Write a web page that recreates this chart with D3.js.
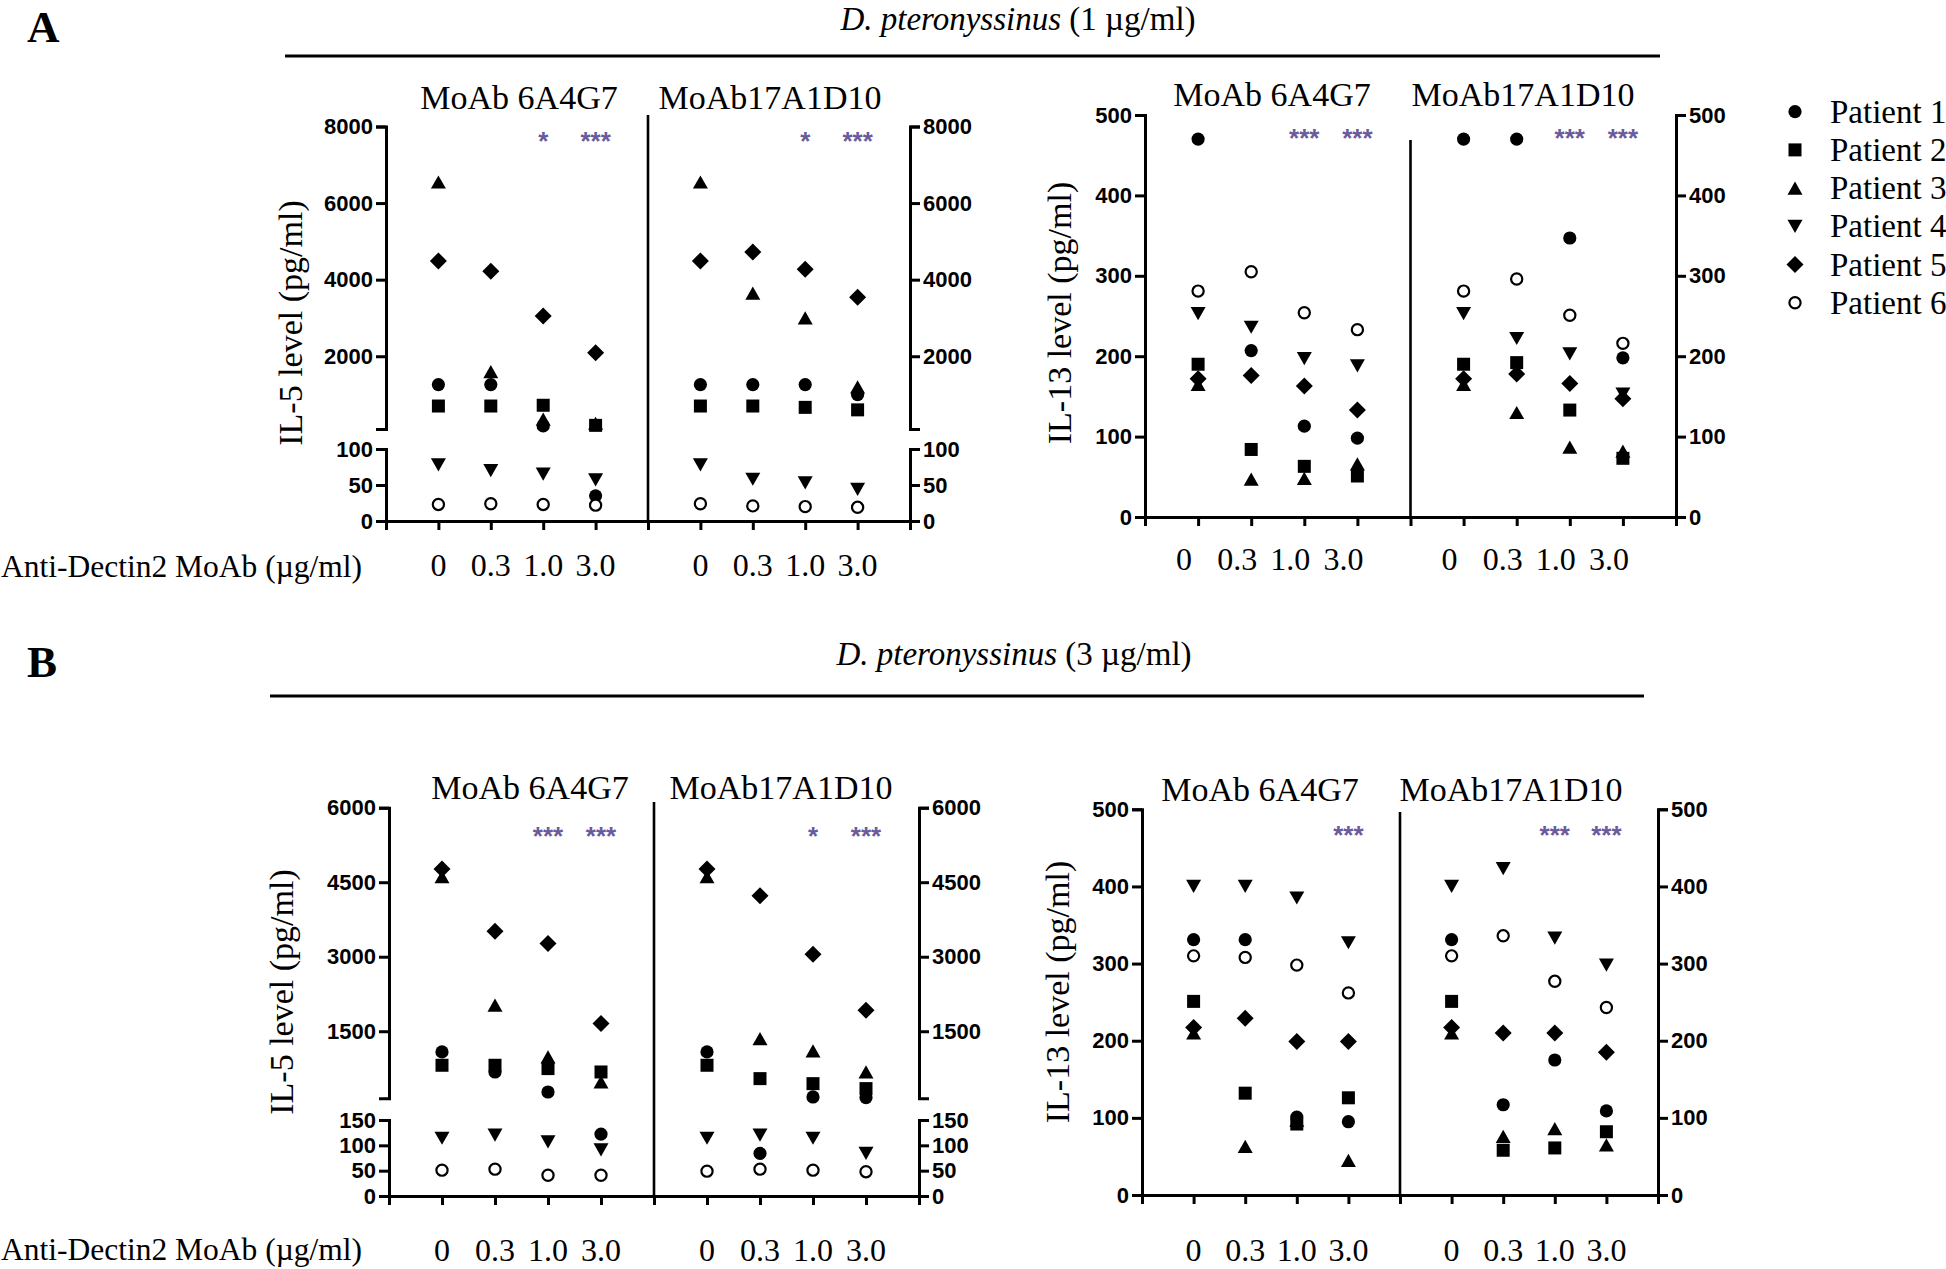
<!DOCTYPE html>
<html><head><meta charset="utf-8">
<script src="https://cdn.jsdelivr.net/npm/d3@7"></script>
<style>body{margin:0;background:#fff} svg{display:block}</style>
</head><body>
<svg id="c" width="1946" height="1269"></svg>
<script>
// ---------------- DATA ----------------
const patients = ["Patient 1","Patient 2","Patient 3","Patient 4","Patient 5","Patient 6"];
const doses = ["0","0.3","1.0","3.0"];
const antibodies = ["MoAb 6A4G7","MoAb17A1D10"];
const doseAxisTitle = "Anti-Dectin2 MoAb (\u00b5g/ml)";
const il5Title = "IL-5 level (pg/ml)";
const il13Title = "IL-13 level (pg/ml)";

// values per patient: [6A4G7: 0,0.3,1.0,3.0, 17A1D10: 0,0.3,1.0,3.0]
const a_il5 = [
  [1260,1260,180,35, 1260,1260,1260,1000],
  [700,700,720,195, 700,700,665,600],
  [6550,1600,360,250, 6550,3650,3000,1200],
  [78,70,65,57, 78,58,53,44],
  [4490,4220,3050,2090, 4490,4720,4270,3540],
  [23,24,23,22, 24,21,20,19]
];
const a_il13 = [
  [470,207,113,98, 470,470,347,198],
  [190,84,63,51, 190,192,133,73],
  [165,47,48,66, 165,130,87,82],
  [253,236,197,188, 253,222,203,153],
  [172,176,163,133, 172,178,166,147],
  [281,305,254,233, 281,296,251,216]
];
const b_il5 = [
  [1084,680,277,122, 1084,84,177,165],
  [815,815,748,680, 815,546,445,345],
  [4610,2024,983,479, 4610,1352,1104,680],
  [114,120,107,91, 114,120,114,84],
  [4765,3515,3267,1655, 4765,4227,3052,1923],
  [51,53,41,41, 49,53,51,48]
];
const b_il13 = [
  [331,331,101,95, 331,117,175,109],
  [251,132,92,126, 251,58,61,82],
  [210,63,97,45, 210,76,86,65],
  [400,400,385,327, 400,423,333,298],
  [217,229,199,199, 217,210,210,185],
  [310,308,298,262, 310,336,277,243]
];
const a_il5_sig = ["","","*","***","","","*","***"];
const a_il13_sig = ["","","***","***","","","***","***"];
const b_il5_sig = ["","","***","***","","","*","***"];
const b_il13_sig = ["","","","***","","","***","***"];

const a_il5_upperTicks = [2000,4000,6000,8000], a_il5_lowerTicks = [0,50,100];
const b_il5_upperTicks = [1500,3000,4500,6000], b_il5_lowerTicks = [0,50,100,150];
const il13Ticks = [0,100,200,300,400,500];

// ---------------- DRAWING ----------------
const svg = d3.select("#c");
const SERIF = "'Liberation Serif','Times New Roman',serif";
const TICKFONT = "'Liberation Sans',Arial,sans-serif";
const SANS = "'Liberation Sans',Arial,sans-serif";
const SIGCOL = "#6a5b9c";

const triUp = {draw(ctx,size){const w=Math.sqrt(size),h=w*0.88;ctx.moveTo(0,-h/2);ctx.lineTo(w/2,h/2);ctx.lineTo(-w/2,h/2);ctx.closePath();}};
const triDown = {draw(ctx,size){const w=Math.sqrt(size),h=w*0.88;ctx.moveTo(0,h/2);ctx.lineTo(w/2,-h/2);ctx.lineTo(-w/2,-h/2);ctx.closePath();}};
const diamond = {draw(ctx,size){const r=Math.sqrt(size)/2;ctx.moveTo(0,-r);ctx.lineTo(r,0);ctx.lineTo(0,r);ctx.lineTo(-r,0);ctx.closePath();}};
const symbols = [
  {type:d3.symbolCircle,size:Math.PI*6.6*6.6,fill:"#000",stroke:"none"},
  {type:d3.symbolSquare,size:13*13,fill:"#000",stroke:"none"},
  {type:triUp,size:15*15,fill:"#000",stroke:"none"},
  {type:triDown,size:15*15,fill:"#000",stroke:"none"},
  {type:diamond,size:17*17,fill:"#000",stroke:"none"},
  {type:d3.symbolCircle,size:Math.PI*5.6*5.6,fill:"#fff",stroke:"#000"}
];
const drawOrder = [2,3,1,0,4,5];

function styleAxis(g){
  g.selectAll("path,line").attr("stroke","#000").attr("stroke-width",3);
  g.selectAll("text").attr("font-family",TICKFONT).attr("font-weight","bold").attr("font-size",22).attr("fill","#000");
}

function panel(cfg){
  const g = svg.append("g");
  const x = d3.scaleLinear().domain([0,10]).range(cfg.xRange);
  let yFn, y0;
  if(cfg.broken){
    const yU = d3.scaleLinear().domain(cfg.upperDomain).range(cfg.upperRange);
    const yL = d3.scaleLinear().domain(cfg.lowerDomain).range(cfg.lowerRange);
    yFn = v => v < cfg.lowerDomain[1] ? yL(v) : yU(v);
    y0 = yL(0);
    [[d3.axisLeft, cfg.xRange[0]], [d3.axisRight, cfg.xRange[1]]].forEach(([ax, xp]) => {
      const gu = g.append("g").attr("transform",`translate(${xp},0)`)
        .call(ax(yU).tickValues(cfg.upperTicks).tickSize(10).tickSizeOuter(10).tickPadding(3).tickFormat(d3.format("d")));
      styleAxis(gu);
      const gl = g.append("g").attr("transform",`translate(${xp},0)`)
        .call(ax(yL).tickValues(cfg.lowerTicks).tickSize(10).tickSizeOuter(10).tickPadding(3).tickFormat(d3.format("d")));
      styleAxis(gl);
    });
  } else {
    const y = d3.scaleLinear().domain(cfg.domain).range(cfg.range);
    yFn = y; y0 = y(0);
    [[d3.axisLeft, cfg.xRange[0]], [d3.axisRight, cfg.xRange[1]]].forEach(([ax, xp]) => {
      const ga = g.append("g").attr("transform",`translate(${xp},0)`)
        .call(ax(y).tickValues(cfg.ticks).tickSize(10).tickSizeOuter(10).tickPadding(3).tickFormat(d3.format("d")));
      styleAxis(ga);
    });
  }
  const gx = g.append("g").attr("transform",`translate(0,${y0})`)
    .call(d3.axisBottom(x).tickValues(d3.range(0,11)).tickSize(9).tickSizeOuter(0).tickFormat(""));
  styleAxis(gx);
  g.append("line").attr("x1",x(5)).attr("x2",x(5)).attr("y1",cfg.dividerTop).attr("y2",y0)
    .attr("stroke","#000").attr("stroke-width",2.6);
  antibodies.forEach((t,i)=>{
    g.append("text").attr("x",cfg.titleX[i]).attr("y",cfg.titleY).attr("text-anchor","middle")
      .attr("font-family",SERIF).attr("font-size",34).text(t);
  });
  const idx = d3.range(8).map(i => i < 4 ? i+1 : i+2);
  idx.forEach((k,i)=>{
    g.append("text").attr("x",x(k)+cfg.labelDx).attr("y",cfg.labelY).attr("text-anchor","middle")
      .attr("font-family",SERIF).attr("font-size",32).text(doses[i%4]);
  });
  cfg.sig.forEach((s,i)=>{
    if(!s) return;
    g.append("text").attr("x",x(idx[i])).attr("y",cfg.sigY+14).attr("text-anchor","middle")
      .attr("font-family",SANS).attr("font-weight","bold").attr("font-size",26).attr("fill",SIGCOL).text(s);
  });
  g.append("text").attr("transform",`translate(${cfg.yTitlePos[0]},${cfg.yTitlePos[1]}) rotate(-90)`)
    .attr("text-anchor","middle").attr("dominant-baseline","central")
    .attr("font-family",SERIF).attr("font-size",34).text(cfg.yTitle);
  drawOrder.forEach(p=>{
    const sym = symbols[p];
    g.append("g").selectAll("path").data(cfg.data[p]).join("path")
      .attr("d", d3.symbol().type(sym.type).size(sym.size))
      .attr("transform",(d,i)=>`translate(${x(idx[i])},${yFn(d)})`)
      .attr("fill",sym.fill).attr("stroke",sym.stroke).attr("stroke-width",2.2);
  });
}

function header(letter, conc, lx, ly, tx, ty, x1, x2, yl){
  svg.append("text").attr("x",lx).attr("y",ly).attr("font-family",SERIF).attr("font-weight","bold")
    .attr("font-size",45).text(letter);
  const t = svg.append("text").attr("x",tx).attr("y",ty).attr("text-anchor","middle")
    .attr("font-family",SERIF).attr("font-size",33);
  t.append("tspan").attr("font-style","italic").text("D. pteronyssinus");
  t.append("tspan").text(` (${conc} \u00b5g/ml)`);
  svg.append("line").attr("x1",x1).attr("x2",x2).attr("y1",yl).attr("y2",yl).attr("stroke","#000").attr("stroke-width",3);
}
header("A","1",27,42,1018,30,285,1660,56);
header("B","3",27,677,1014,665,270,1644,696);

[577,1260].forEach(yb=>{
  svg.append("text").attr("x",1).attr("y",yb).attr("font-family",SERIF).attr("font-size",31.5).text(doseAxisTitle);
});

panel({xRange:[386,910], broken:true, upperDomain:[100,8000], upperRange:[429,126.5], upperTicks:a_il5_upperTicks,
  lowerDomain:[0,100], lowerRange:[521,449], lowerTicks:a_il5_lowerTicks,
  dividerTop:115, titleX:[519,770], titleY:109, labelY:576, labelDx:0, sigY:136, sig:a_il5_sig,
  yTitle:il5Title, yTitlePos:[290,323], data:a_il5});
panel({xRange:[1145,1676], broken:false, domain:[0,500], range:[517,115], ticks:il13Ticks,
  dividerTop:140, titleX:[1272,1523], titleY:106, labelY:570, labelDx:-14, sigY:133, sig:a_il13_sig,
  yTitle:il13Title, yTitlePos:[1059,313], data:a_il13});
panel({xRange:[389,919], broken:true, upperDomain:[150,6000], upperRange:[1098.3,807.7], upperTicks:b_il5_upperTicks,
  lowerDomain:[0,150], lowerRange:[1196,1120], lowerTicks:b_il5_lowerTicks,
  dividerTop:802, titleX:[530,781], titleY:799, labelY:1261, labelDx:0, sigY:831, sig:b_il5_sig,
  yTitle:il5Title, yTitlePos:[281,992], data:b_il5});
panel({xRange:[1142,1658], broken:false, domain:[0,500], range:[1195,809.3], ticks:il13Ticks,
  dividerTop:812, titleX:[1260,1511], titleY:801, labelY:1261, labelDx:0, sigY:830, sig:b_il13_sig,
  yTitle:il13Title, yTitlePos:[1057,992], data:b_il13});

const lg = svg.append("g");
const ly = d3.scaleLinear().domain([0,5]).range([111.7,302.7]);
patients.forEach((p,i)=>{
  const sym = symbols[i];
  lg.append("path").attr("d",d3.symbol().type(sym.type).size(sym.size))
    .attr("transform",`translate(1795,${ly(i)})`).attr("fill",sym.fill).attr("stroke",sym.stroke).attr("stroke-width",2.2);
  lg.append("text").attr("x",1830).attr("y",ly(i)+11).attr("font-family",SERIF).attr("font-size",33).text(p);
});
</script>
</body></html>
